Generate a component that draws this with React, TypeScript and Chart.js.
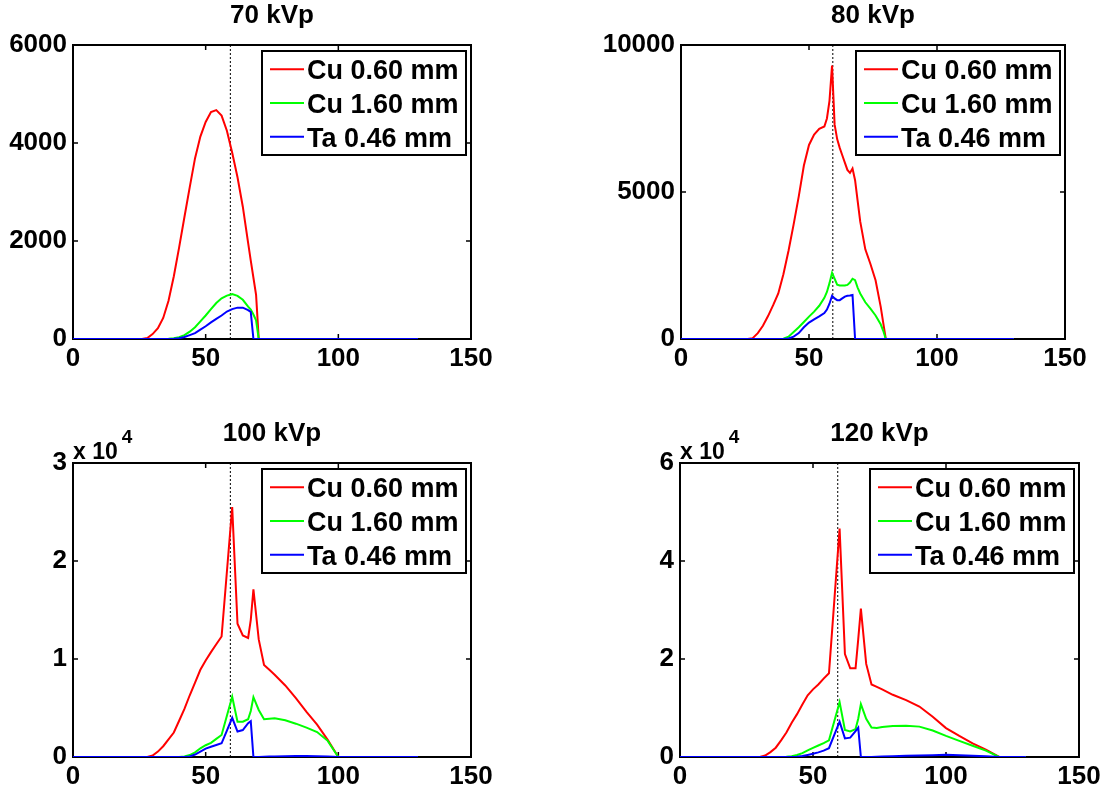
import React, { useEffect, useRef } from "react";
import { Chart, registerables } from "chart.js";

Chart.register(...registerables);

const FONT = '"Liberation Sans", Arial, Helvetica, sans-serif';

// ---------- data ----------
const seriesLabels = ["Cu 0.60 mm", "Cu 1.60 mm", "Ta 0.46 mm"];
const seriesColors = ["#ff0000", "#00ff00", "#0000ff"];
const markerEnergy = 59.3;
const xTickStep = 50;

// 70 kVp
const energies70 = [0, 26, 28, 30, 32, 34, 36, 38, 40, 42, 44, 46, 48, 50, 52, 54, 56, 58, 60, 62, 64, 66, 67, 68, 69, 70, 130];
const cu060_70 = [0, 0, 20, 100, 220, 430, 780, 1280, 1870, 2490, 3100, 3690, 4130, 4430, 4630, 4670, 4560, 4250, 3800, 3300, 2700, 1960, 1600, 1250, 900, 0, 0];
const cu160_70 = [0, 0, 0, 0, 0, 0, 5, 15, 35, 80, 150, 240, 360, 480, 610, 735, 830, 885, 915, 880, 800, 660, 600, 500, 380, 0, 0];
const ta046_70 = [0, 0, 0, 0, 0, 0, 0, 5, 15, 40, 80, 120, 190, 260, 340, 410, 480, 560, 610, 640, 640, 590, 550, 0, 0, 0, 0];

// 80 kVp
const energies80 = [0, 26, 28, 30, 32, 34, 36, 38, 40, 42, 44, 46, 48, 50, 52, 54, 56, 57, 58, 59, 60, 61, 62, 63, 64, 65, 66, 67, 68, 69, 70, 72, 74, 76, 78, 79, 80, 130];
const cu060_80 = [0, 0, 30, 200, 450, 780, 1150, 1550, 2200, 3000, 3900, 4850, 5900, 6600, 6950, 7150, 7230, 7500, 8100, 9300, 7300, 6800, 6500, 6250, 6000, 5750, 5650, 5800, 5400, 4700, 4000, 3050, 2550, 2000, 1100, 550, 0, 0];
const cu160_80 = [0, 0, 0, 0, 0, 0, 0, 0, 10, 80, 240, 400, 580, 760, 930, 1130, 1400, 1600, 1900, 2250, 2050, 1850, 1820, 1820, 1820, 1840, 1920, 2050, 2000, 1750, 1550, 1250, 1030, 800, 500, 280, 0, 0];
const ta046_80 = [0, 0, 0, 0, 0, 0, 0, 0, 0, 20, 80, 200, 400, 560, 670, 770, 880, 1000, 1200, 1470, 1380, 1320, 1320, 1380, 1440, 1470, 1480, 1500, 0, 0, 0, 0, 0, 0, 0, 0, 0, 0];

// 100 kVp
const energies100 = [0, 28, 30, 32, 34, 36, 38, 40, 42, 44, 46, 48, 50, 52, 54, 56, 58, 60, 62, 64, 66, 67, 68, 70, 72, 74, 76, 80, 84, 88, 92, 96, 100, 130];
const cu060_100 = [0, 0, 150, 550, 1100, 1800, 2500, 3700, 4900, 6300, 7600, 8900, 9850, 10700, 11500, 12300, 18900, 25500, 13600, 12400, 12150, 14000, 17100, 12000, 9400, 8900, 8400, 7300, 6000, 4600, 3300, 1750, 0, 0];
const cu160_100 = [0, 0, 0, 0, 0, 0, 0, 0, 60, 200, 480, 890, 1200, 1450, 1850, 2250, 4200, 6150, 3600, 3600, 3850, 4700, 6100, 4800, 3850, 3900, 3950, 3750, 3400, 3000, 2550, 1650, 0, 0];
const ta046_100 = [0, 0, 0, 0, 0, 0, 0, 0, 0, 60, 250, 550, 850, 1050, 1220, 1400, 2700, 4000, 2600, 2750, 3450, 3650, 0, 0, 20, 40, 60, 80, 100, 100, 80, 40, 0, 0];

// 120 kVp
const energies120 = [0, 28, 30, 32, 34, 36, 38, 40, 42, 44, 46, 48, 50, 52, 54, 56, 58, 60, 62, 64, 66, 67, 68, 70, 72, 74, 76, 80, 85, 90, 95, 100, 105, 110, 115, 120, 130];
const cu060_120 = [0, 0, 0, 300, 1000, 1900, 3400, 5000, 7000, 8750, 10700, 12600, 13800, 14800, 16000, 17100, 31800, 46600, 21000, 18100, 18100, 24000, 30300, 19000, 14800, 14300, 13800, 12700, 11600, 10300, 8200, 5900, 4300, 2800, 1500, 0, 0];
const cu160_120 = [0, 0, 0, 0, 0, 0, 0, 30, 150, 400, 800, 1350, 1850, 2350, 2850, 3400, 7300, 11200, 5500, 5200, 5700, 7800, 10800, 7800, 6000, 5900, 6100, 6350, 6400, 6200, 5400, 4300, 3300, 2300, 1300, 0, 0];
const ta046_120 = [0, 0, 0, 0, 0, 0, 0, 0, 0, 50, 200, 420, 650, 950, 1300, 1800, 4500, 7200, 3800, 3950, 5300, 6000, 0, 0, 20, 50, 80, 150, 250, 320, 380, 450, 380, 280, 150, 0, 0];

const titles = ["70 kVp", "80 kVp", "100 kVp", "120 kVp"];
const yMaxes = [6000, 10000, 30000, 60000];
const ySteps = [2000, 5000, 10000, 20000];
const yDivisors = [1, 1, 10000, 10000];

// ---------- layout ----------
const W = 1105;
const H = 797;
const XH = 40;
const areas = [
  { l: 73, t: 45, r: 471, b: 339 },
  { l: 681, t: 45, r: 1065, b: 339 },
  { l: 73, t: 463, r: 471, b: 757 },
  { l: 680, t: 463, r: 1079, b: 757 },
];

type PlotDef = {
  title: string;
  energies: number[];
  series: number[][];
  yMax: number;
  yStep: number;
  divisor: number;
  area: { l: number; t: number; r: number; b: number };
};

const plots: PlotDef[] = [
  { title: titles[0], energies: energies70, series: [cu060_70, cu160_70, ta046_70], yMax: yMaxes[0], yStep: ySteps[0], divisor: yDivisors[0], area: areas[0] },
  { title: titles[1], energies: energies80, series: [cu060_80, cu160_80, ta046_80], yMax: yMaxes[1], yStep: ySteps[1], divisor: yDivisors[1], area: areas[1] },
  { title: titles[2], energies: energies100, series: [cu060_100, cu160_100, ta046_100], yMax: yMaxes[2], yStep: ySteps[2], divisor: yDivisors[2], area: areas[2] },
  { title: titles[3], energies: energies120, series: [cu060_120, cu160_120, ta046_120], yMax: yMaxes[3], yStep: ySteps[3], divisor: yDivisors[3], area: areas[3] },
];

function makeDecor(p: PlotDef) {
  return {
    id: "matlabDecor",
    beforeDatasetsDraw(chart: any) {
      const { ctx, chartArea: a, scales } = chart;
      ctx.save();
      ctx.strokeStyle = "#000";
      ctx.lineWidth = 2;
      ctx.strokeRect(a.left, a.top, a.right - a.left, a.bottom - a.top);
      ctx.lineWidth = 1.5;
      ctx.beginPath();
      const tl = 5;
      for (const t of scales.x.ticks) {
        if (t.value <= scales.x.min || t.value >= scales.x.max) continue;
        const px = scales.x.getPixelForValue(t.value);
        ctx.moveTo(px, a.bottom);
        ctx.lineTo(px, a.bottom - tl);
        ctx.moveTo(px, a.top);
        ctx.lineTo(px, a.top + tl);
      }
      for (const t of scales.y.ticks) {
        if (t.value <= scales.y.min || t.value >= scales.y.max) continue;
        const py = scales.y.getPixelForValue(t.value);
        ctx.moveTo(a.left, py);
        ctx.lineTo(a.left + tl, py);
        ctx.moveTo(a.right, py);
        ctx.lineTo(a.right - tl, py);
      }
      ctx.stroke();

      // title
      ctx.fillStyle = "#000";
      ctx.font = `bold 26px ${FONT}`;
      ctx.textAlign = "center";
      ctx.textBaseline = "alphabetic";
      ctx.fillText(p.title, (a.left + a.right) / 2, a.top - 22);

      // exponent label
      if (p.divisor !== 1) {
        const exp = String(Math.round(Math.log10(p.divisor)));
        ctx.textAlign = "left";
        ctx.font = `bold 23px ${FONT}`;
        const base = "x 10";
        ctx.fillText(base, a.left, a.top - 4);
        const w = ctx.measureText(base).width;
        ctx.font = `bold 19px ${FONT}`;
        ctx.fillText(exp, a.left + w + 4, a.top - 20);
      }
      ctx.restore();
    },
    afterDatasetsDraw(chart: any) {
      const { ctx, chartArea: a } = chart;
      const bw = 204;
      const bh = 104;
      const L = a.right - 5 - bw;
      const T = a.top + 6;
      ctx.save();
      ctx.fillStyle = "#fff";
      ctx.fillRect(L, T, bw, bh);
      ctx.strokeStyle = "#000";
      ctx.lineWidth = 2;
      ctx.strokeRect(L, T, bw, bh);
      ctx.font = `bold 27px ${FONT}`;
      ctx.textAlign = "left";
      ctx.textBaseline = "alphabetic";
      for (let i = 0; i < seriesLabels.length; i++) {
        const ly = T + 18.3 + i * 33.7;
        ctx.strokeStyle = seriesColors[i];
        ctx.lineWidth = 2;
        ctx.beginPath();
        ctx.moveTo(L + 8, ly);
        ctx.lineTo(L + 42, ly);
        ctx.stroke();
        ctx.fillStyle = "#000";
        ctx.fillText(seriesLabels[i], L + 45, ly + 10);
      }
      ctx.restore();
    },
  };
}

function Plot({ p }: { p: PlotDef }) {
  const ref = useRef<HTMLCanvasElement | null>(null);
  useEffect(() => {
    if (!ref.current) return;
    const yw = Math.min(p.area.l, 95);
    const tickFont = { family: FONT, size: 26, weight: "bold" as const };
    const datasets: any[] = p.series.map((vals, i) => ({
      label: seriesLabels[i],
      data: p.energies.map((e, j) => ({ x: e, y: vals[j] })),
      borderColor: seriesColors[i],
      backgroundColor: seriesColors[i],
      borderWidth: 2,
      pointRadius: 0,
      tension: 0,
      fill: false,
      order: 3 - i,
    }));
    datasets.push({
      label: "marker",
      data: [
        { x: markerEnergy, y: 0 },
        { x: markerEnergy, y: p.yMax },
      ],
      borderColor: "#000",
      borderWidth: 1,
      borderDash: [2, 2],
      pointRadius: 0,
      fill: false,
      order: 10,
    });
    const chart = new Chart(ref.current, {
      type: "line",
      data: { datasets },
      options: {
        animation: false,
        responsive: false,
        events: [],
        layout: {
          padding: {
            left: p.area.l - yw,
            top: p.area.t,
            right: W - p.area.r,
            bottom: H - p.area.b - XH,
          },
        },
        plugins: {
          legend: { display: false },
          title: { display: false },
          tooltip: { enabled: false },
        },
        scales: {
          x: {
            type: "linear",
            min: 0,
            max: 150,
            ticks: { stepSize: xTickStep, color: "#000", font: tickFont, padding: 4, maxRotation: 0, autoSkip: false },
            grid: { display: false, drawTicks: false },
            border: { display: false },
            afterFit: (s: any) => {
              s.height = XH;
            },
          },
          y: {
            type: "linear",
            min: 0,
            max: p.yMax,
            ticks: {
              stepSize: p.yStep,
              color: "#000",
              font: tickFont,
              padding: 6,
              callback: (v: any) => String(Number(v) / p.divisor),
            },
            grid: { display: false, drawTicks: false },
            border: { display: false },
            afterFit: (s: any) => {
              s.width = yw;
            },
          },
        },
      } as any,
      plugins: [makeDecor(p) as any],
    });
    return () => chart.destroy();
  }, [p]);
  return (
    <canvas
      ref={ref}
      width={W}
      height={H}
      style={{ position: "absolute", left: 0, top: 0, width: W, height: H }}
    />
  );
}

export default function App() {
  return (
    <div style={{ position: "absolute", left: 0, top: 0, width: W, height: H, background: "#fff" }}>
      {plots.map((p, i) => (
        <Plot key={i} p={p} />
      ))}
    </div>
  );
}
